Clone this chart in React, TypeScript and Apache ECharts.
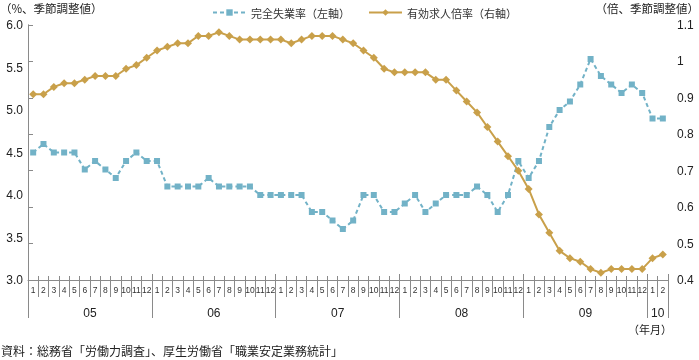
import React, { useEffect, useRef } from "react";
import * as echarts from "echarts";

const months: string[] = [];
for (let y = 0; y < 5; y++) for (let m = 1; m <= 12; m++) months.push(String(m));
months.push("1", "2");

const yearTicks = [0, 12, 24, 36, 48, 60, 62];
const yearLabelPos = [6, 18, 30, 42, 54, 61];
const yearLabels = ["05", "06", "07", "08", "09", "10"];

const unemployment = [
  4.5, 4.6, 4.5, 4.5, 4.5, 4.3, 4.4, 4.3, 4.2, 4.4, 4.5, 4.4,
  4.4, 4.1, 4.1, 4.1, 4.1, 4.2, 4.1, 4.1, 4.1, 4.1, 4.0, 4.0,
  4.0, 4.0, 4.0, 3.8, 3.8, 3.7, 3.6, 3.7, 4.0, 4.0, 3.8, 3.8,
  3.9, 4.0, 3.8, 3.9, 4.0, 4.0, 4.0, 4.1, 4.0, 3.8, 4.0, 4.4,
  4.2, 4.4, 4.8, 5.0, 5.1, 5.3, 5.6, 5.4, 5.3, 5.2, 5.3, 5.2,
  4.9, 4.9,
];

const jobRatio = [
  0.91, 0.91, 0.93, 0.94, 0.94, 0.95, 0.96, 0.96, 0.96, 0.98, 0.99, 1.01,
  1.03, 1.04, 1.05, 1.05, 1.07, 1.07, 1.08, 1.07, 1.06, 1.06, 1.06, 1.06,
  1.06, 1.05, 1.06, 1.07, 1.07, 1.07, 1.06, 1.05, 1.03, 1.01, 0.98, 0.97,
  0.97, 0.97, 0.97, 0.95, 0.95, 0.92, 0.89, 0.86, 0.82, 0.78, 0.74, 0.70,
  0.65, 0.58, 0.53, 0.48, 0.46, 0.45, 0.43, 0.42, 0.43, 0.43, 0.43, 0.43,
  0.46, 0.47,
];

const FONT = "'Liberation Sans', Arial, 'Noto Sans CJK JP', sans-serif";
const CJK = "'Noto Sans CJK JP', 'Liberation Sans', sans-serif";
const BLUE = "#72b2c7";
const GOLD = "#c9a04a";
const AXIS = "#8a8a8a";
const TEXT = "#222";

export default function App() {
  const ref = useRef<HTMLDivElement>(null);
  useEffect(() => {
    if (!ref.current) return;
    const chart = echarts.init(ref.current, null, { renderer: "svg" });
    chart.setOption({
      animation: false,
      grid: { left: 28, right: 31, top: 25, bottom: 80, containLabel: false },
      legend: {
        left: 207,
        top: 2,
        itemWidth: 33,
        itemHeight: 8,
        itemGap: 18,
        textStyle: { fontSize: 11, color: "#333", fontFamily: CJK },
        data: ["完全失業率（左軸）", "有効求人倍率（右軸）"],
      },
      xAxis: [
        {
          type: "category",
          data: months,
          boundaryGap: true,
          position: "bottom",
          axisLine: { show: true, lineStyle: { color: AXIS, width: 1 } },
          axisTick: { show: true, interval: 0, length: 17, lineStyle: { color: AXIS } },
          axisLabel: { interval: 0, fontSize: 8.5, color: "#333", margin: 6, fontFamily: FONT },
          splitLine: { show: false },
        },
        {
          type: "category",
          data: months,
          boundaryGap: true,
          position: "bottom",
          axisLine: { show: false },
          axisTick: { show: true, inside: true, interval: 0, length: 4, lineStyle: { color: AXIS } },
          axisLabel: { show: false },
          splitLine: { show: false },
        },
        {
          type: "value",
          min: 0,
          max: 62,
          position: "bottom",
          axisLine: { show: false },
          axisTick: { show: true, length: 38, customValues: yearTicks, lineStyle: { color: AXIS } },
          axisLabel: {
            show: true,
            customValues: yearLabelPos,
            margin: 27,
            fontSize: 12,
            color: TEXT,
            fontFamily: FONT,
            formatter: (v: number) => {
              const i = yearLabelPos.indexOf(v);
              return i >= 0 ? yearLabels[i] : "";
            },
          },
          splitLine: { show: false },
        },
        {
          type: "value",
          min: 0,
          max: 62,
          position: "bottom",
          axisLine: { show: false },
          axisTick: { show: true, inside: true, length: 6, customValues: yearTicks, lineStyle: { color: AXIS } },
          axisLabel: { show: false },
          splitLine: { show: false },
        },
      ],
      yAxis: [
        {
          type: "value",
          min: 3,
          max: 6,
          interval: 0.5,
          position: "left",
          axisLine: { show: true, lineStyle: { color: AXIS } },
          axisTick: { show: false },
          axisLabel: {
            fontSize: 12,
            color: TEXT,
            margin: 5,
            fontFamily: FONT,
            formatter: (v: number) => v.toFixed(1),
          },
          splitLine: { show: false },
        },
        {
          type: "value",
          min: 0.4,
          max: 1.1,
          interval: 0.1,
          position: "right",
          axisLine: { show: true, lineStyle: { color: AXIS } },
          axisTick: { show: true, length: 5, lineStyle: { color: AXIS } },
          axisLabel: {
            fontSize: 12,
            color: TEXT,
            margin: 9,
            fontFamily: FONT,
            formatter: (v: number) => String(Math.round(v * 10) / 10),
          },
          splitLine: { show: false },
        },
      ],
      series: [
        {
          name: "完全失業率（左軸）",
          type: "line",
          xAxisIndex: 0,
          yAxisIndex: 0,
          data: unemployment,
          symbol: "rect",
          symbolSize: 6,
          lineStyle: { color: BLUE, width: 2, type: [4, 3] },
          itemStyle: { color: BLUE },
          z: 2,
        },
        {
          name: "有効求人倍率（右軸）",
          type: "line",
          xAxisIndex: 0,
          yAxisIndex: 1,
          data: jobRatio,
          symbol: "diamond",
          symbolSize: 8,
          lineStyle: { color: GOLD, width: 2 },
          itemStyle: { color: GOLD },
          z: 3,
        },
      ],
      graphic: [
        {
          type: "text",
          left: 0,
          top: 2,
          style: { text: "（%、季節調整値）", fontSize: 11.5, fill: TEXT, fontFamily: CJK },
        },
        {
          type: "text",
          right: 0,
          top: 2,
          style: { text: "（倍、季節調整値）", fontSize: 11.5, fill: TEXT, fontFamily: CJK },
        },
        {
          type: "text",
          right: 27,
          top: 323,
          style: { text: "（年月）", fontSize: 11, fill: TEXT, fontFamily: CJK },
        },
        {
          type: "text",
          left: 1,
          top: 344,
          style: {
            text: "資料：総務省「労働力調査」、厚生労働省「職業安定業務統計」",
            fontSize: 12,
            fill: TEXT,
            fontFamily: CJK,
          },
        },
      ],
    });
    return () => chart.dispose();
  }, []);
  return (
    <div
      ref={ref}
      style={{ position: "fixed", left: 0, top: 0, width: 699, height: 360 }}
    />
  );
}
